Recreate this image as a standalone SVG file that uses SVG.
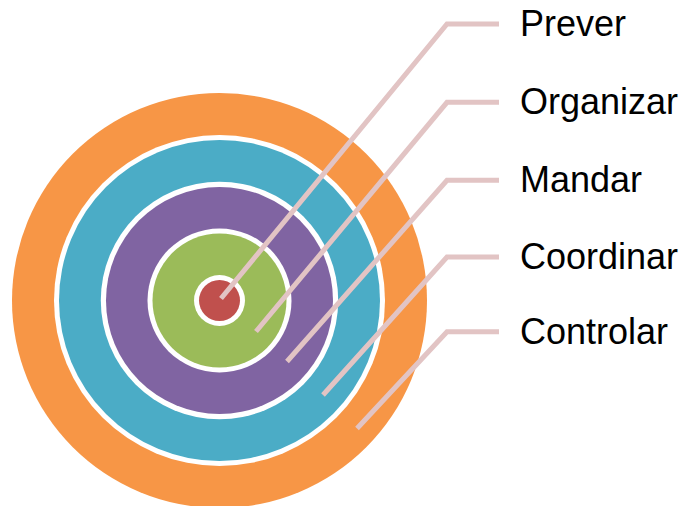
<svg xmlns="http://www.w3.org/2000/svg" width="688" height="506" viewBox="0 0 688 506">
<style>
.gap{fill:#FFFFFF}
.lbl{font-family:"Liberation Sans",Arial,sans-serif;font-size:36px;fill:#000000}
.con{fill:none;stroke:#E2C4C4;stroke-width:5;stroke-linejoin:miter;stroke-linecap:butt}
</style>
<rect width="688" height="506" fill="#FFFFFF"/>
<g id="ring-controlar">
<circle cx="219.5" cy="300.5" r="207.5" fill="#F79646"/>
<circle class="gap" cx="219.5" cy="300.5" r="165.5"/>
</g>
<g id="ring-coordinar">
<circle cx="219.5" cy="300.5" r="160.5" fill="#4BACC6"/>
<circle class="gap" cx="219.5" cy="300.5" r="118.7"/>
</g>
<g id="ring-mandar">
<circle cx="219.5" cy="300.5" r="113.5" fill="#8064A2"/>
<circle class="gap" cx="219.5" cy="300.5" r="72"/>
</g>
<g id="ring-organizar">
<circle cx="219.5" cy="300.5" r="67" fill="#9BBB59"/>
<circle class="gap" cx="219.5" cy="300.5" r="25.5"/>
</g>
<g id="ring-prever">
<circle cx="219.5" cy="300.5" r="20.5" fill="#C0504D"/>
</g>
<g id="connectors">
<polyline class="con" points="221,298.5 447,24 499,24"/>
<polyline class="con" points="256,331.5 447,102.3 499,102.3"/>
<polyline class="con" points="287,361.5 447,180.3 499,180.3"/>
<polyline class="con" points="323,395 447,257 499,257"/>
<polyline class="con" points="357,428.5 447,331.7 499,331.7"/>
</g>
<g id="label-prever"><text class="lbl" x="520" y="36">Prever</text></g>
<g id="label-organizar"><text class="lbl" x="520" y="114">Organizar</text></g>
<g id="label-mandar"><text class="lbl" x="520" y="192">Mandar</text></g>
<g id="label-coordinar"><text class="lbl" x="520" y="269">Coordinar</text></g>
<g id="label-controlar"><text class="lbl" x="520" y="344">Controlar</text></g>
</svg>
